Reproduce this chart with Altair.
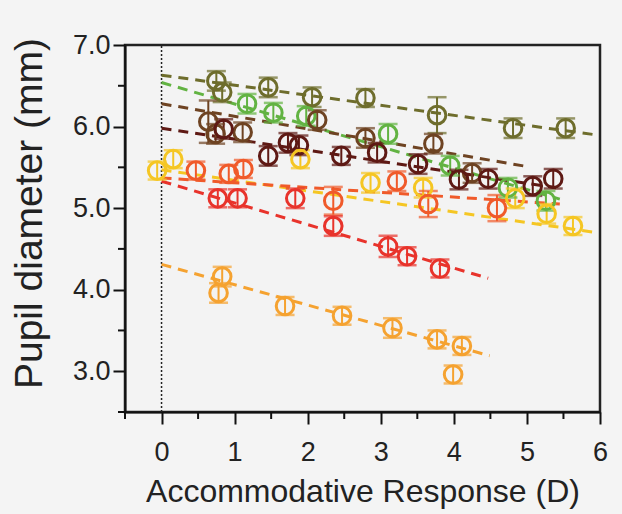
import altair as alt
import pandas as pd

# ---- data ----
series_names = ["olive", "lightgreen", "brown", "maroon", "yellow", "redorange", "red", "orange"]
series_colors = ["#6e6d2c", "#62b342", "#6e4322", "#5e1914", "#f5c623", "#f05a2a", "#e8332b", "#f5a230"]

olive_x = [0.75, 0.83, 1.46, 2.06, 2.79, 3.77, 4.81, 5.53]
olive_y = [6.56, 6.42, 6.48, 6.36, 6.35, 6.14, 5.98, 5.98]
olive_e = [0.12, 0.12, 0.12, 0.12, 0.11, 0.22, 0.12, 0.12]

lgreen_x = [1.17, 1.53, 1.98, 3.10, 3.95, 4.74, 5.26]
lgreen_y = [6.28, 6.17, 6.13, 5.91, 5.52, 5.25, 5.09]
lgreen_e = [0.12, 0.12, 0.12, 0.12, 0.12, 0.12, 0.12]

brown_x = [0.64, 0.74, 1.11, 2.13, 2.79, 3.72, 4.25]
brown_y = [6.06, 5.91, 5.93, 6.08, 5.86, 5.79, 5.43]
brown_e = [0.26, 0.12, 0.12, 0.12, 0.12, 0.12, 0.12]

maroon_x = [0.85, 1.46, 1.73, 1.88, 2.46, 2.95, 3.51, 4.07, 4.47, 5.08, 5.36]
maroon_y = [5.97, 5.64, 5.80, 5.77, 5.64, 5.68, 5.54, 5.35, 5.36, 5.27, 5.36]
maroon_e = [0.12, 0.12, 0.12, 0.12, 0.11, 0.12, 0.12, 0.12, 0.12, 0.12, 0.12]

yellow_x = [-0.06, 0.16, 1.90, 2.86, 3.58, 4.84, 5.27, 5.63]
yellow_y = [5.46, 5.60, 5.60, 5.31, 5.25, 5.12, 4.93, 4.78]
yellow_e = [0.11, 0.11, 0.11, 0.12, 0.12, 0.12, 0.12, 0.11]

redor_x = [0.47, 0.92, 1.12, 2.35, 3.22, 3.65, 4.59]
redor_y = [5.46, 5.42, 5.48, 5.09, 5.33, 5.05, 5.00]
redor_e = [0.11, 0.11, 0.11, 0.17, 0.12, 0.16, 0.16]

red_x = [0.77, 1.04, 1.83, 2.35, 3.10, 3.36, 3.81]
red_y = [5.12, 5.12, 5.12, 4.78, 4.53, 4.41, 4.26]
red_e = [0.11, 0.11, 0.12, 0.12, 0.13, 0.11, 0.11]

orange_x = [0.83, 0.78, 1.69, 2.47, 3.16, 3.77, 4.11, 3.99]
orange_y = [4.16, 3.96, 3.80, 3.68, 3.53, 3.39, 3.31, 2.96]
orange_e = [0.12, 0.12, 0.11, 0.11, 0.12, 0.11, 0.11, 0.11]

# fitted dashed lines (start / end points)
fit_x0 = [0.0, 0.0, 0.0, 0.0, 0.0, 0.0, 0.0, 0.0]
fit_y0 = [6.63, 6.54, 6.28, 5.98, 5.47, 5.37, 5.33, 4.31]
fit_x1 = [5.93, 5.45, 5.00, 5.40, 5.95, 5.45, 4.47, 4.49]
fit_y1 = [5.90, 5.11, 5.51, 5.25, 4.70, 5.05, 4.14, 3.19]

x_major = [0, 1, 2, 3, 4, 5, 6]
x_minor = [-0.5, 0.5, 1.5, 2.5, 3.5, 4.5, 5.5]
y_major = [3.0, 4.0, 5.0, 6.0, 7.0]
y_minor = [2.5, 3.5, 4.5, 5.5, 6.5]

# ---- build tables ----
pts_src = [
    (olive_x, olive_y, olive_e), (lgreen_x, lgreen_y, lgreen_e),
    (brown_x, brown_y, brown_e), (maroon_x, maroon_y, maroon_e),
    (yellow_x, yellow_y, yellow_e), (redor_x, redor_y, redor_e),
    (red_x, red_y, red_e), (orange_x, orange_y, orange_e),
]
rows = []
for name, (xs, ys, es) in zip(series_names, pts_src):
    for x, y, e in zip(xs, ys, es):
        rows.append({"s": name, "x": x, "y": y, "lo": y - e, "hi": y + e})
pts = pd.DataFrame(rows)

lrows = []
for i, name in enumerate(series_names):
    lrows.append({"s": name, "x": fit_x0[i], "y": fit_y0[i], "o": 0})
    lrows.append({"s": name, "x": fit_x1[i], "y": fit_y1[i], "o": 1})
lines = pd.DataFrame(lrows)

vline = pd.DataFrame({"x": [0.0], "y": [2.5], "y2": [7.0]})
xminor_df = pd.DataFrame({"x": x_minor})
yminor_df = pd.DataFrame({"y": y_minor})

W, H = 475, 367
FONT = "Liberation Sans"
xscale = alt.Scale(domain=[-0.5, 6], nice=False, zero=False)
yscale = alt.Scale(domain=[2.5, 7.0], nice=False, zero=False)
cscale = alt.Scale(domain=series_names, range=series_colors)

xaxis = alt.Axis(
    values=x_major, format="d",
    title="Accommodative Response (D)",
    tickSize=12, grid=False, labelFontSize=27, titleFontSize=32, labelPadding=15,
    titlePadding=11, titleFontWeight="normal", labelOverlap=False, labelFlush=False,
)
yaxis = alt.Axis(
    values=y_major, format=".1f",
    title="Pupil diameter (mm)",
    tickSize=12, grid=False, labelFontSize=27, titleFontSize=39, labelPadding=3,
    titlePadding=23, titleFontWeight="normal", titleY=168, labelOverlap=False,
)

X = alt.X("x:Q", scale=xscale, axis=xaxis)
Y = alt.Y("y:Q", scale=yscale, axis=yaxis)

dotted = alt.Chart(vline).mark_rule(color="#222222", strokeDash=[2, 2], strokeWidth=1.5).encode(
    x=X, y=Y, y2="y2:Q"
)

xminor = alt.Chart(xminor_df).mark_rule(color="#111111", strokeWidth=2).encode(
    x=X, y=alt.value(H), y2=alt.value(H + 7)
)
yminor = alt.Chart(yminor_df).mark_rule(color="#111111", strokeWidth=2).encode(
    y=Y, x=alt.value(0), x2=alt.value(-7)
)

fits = alt.Chart(lines).mark_line(strokeDash=[10, 7], strokeWidth=3).encode(
    x=X, y=Y, color=alt.Color("s:N", scale=cscale, legend=None), detail="s:N", order="o:Q"
)

ebars = alt.Chart(pts).mark_rule(strokeWidth=2).encode(
    x=X, y=alt.Y("lo:Q", scale=yscale, axis=yaxis), y2="hi:Q",
    color=alt.Color("s:N", scale=cscale, legend=None),
)
cap_lo = alt.Chart(pts).mark_tick(orient="horizontal", size=19, thickness=2.5).encode(
    x=X, y=alt.Y("lo:Q", scale=yscale, axis=yaxis),
    color=alt.Color("s:N", scale=cscale, legend=None),
)
cap_hi = alt.Chart(pts).mark_tick(orient="horizontal", size=19, thickness=2.5).encode(
    x=X, y=alt.Y("hi:Q", scale=yscale, axis=yaxis),
    color=alt.Color("s:N", scale=cscale, legend=None),
)
circles = alt.Chart(pts).mark_point(shape="circle", filled=False, size=310, strokeWidth=3, opacity=1).encode(
    x=X, y=Y, color=alt.Color("s:N", scale=cscale, legend=None),
)

chart = (
    alt.layer(xminor, yminor, dotted, fits, ebars, cap_lo, cap_hi, circles)
    .properties(
        width=W, height=H,
        autosize=alt.AutoSizeParams(type="none"),
        padding={"left": 125, "top": 45, "right": 22, "bottom": 102},
        background="#f4f4f4",
    )
    .configure_view(stroke="#222222", strokeWidth=2.5, fill="#f3f3f3")
    .configure_axis(
        domainColor="#111111", domainWidth=2, tickColor="#111111", tickWidth=2,
        labelFont=FONT, titleFont=FONT, labelColor="#222222", titleColor="#222222",
    )
)

chart.save("out.html", embed_options={"renderer": "svg", "actions": False})
